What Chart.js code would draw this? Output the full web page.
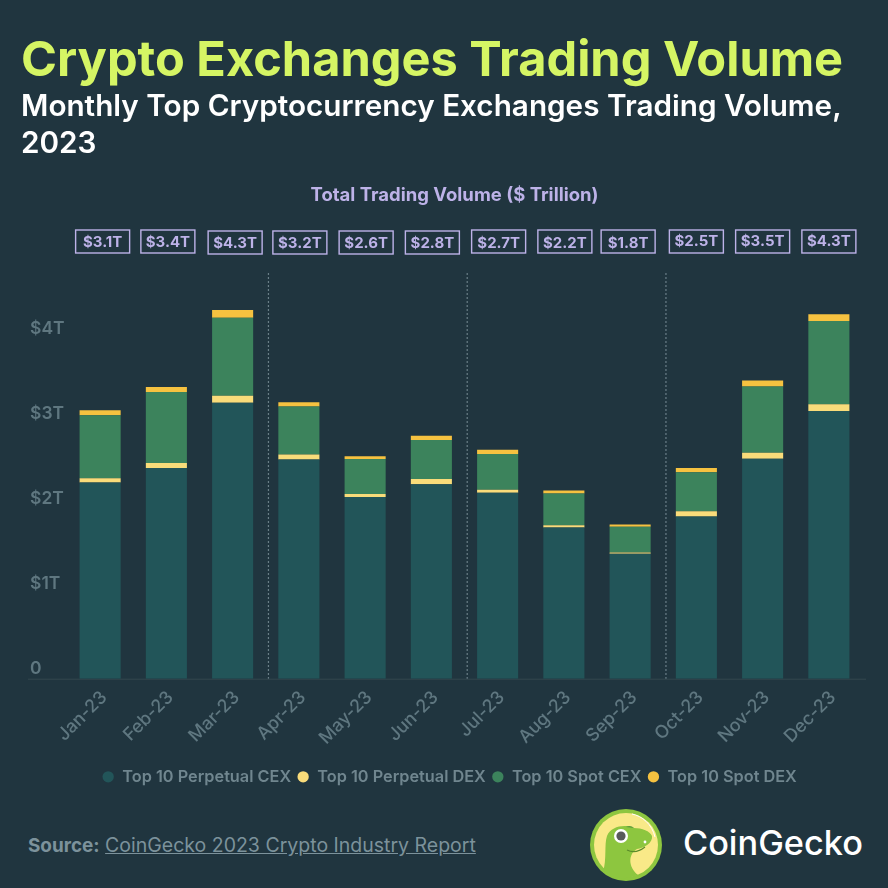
<!DOCTYPE html>
<html>
<head>
<meta charset="utf-8">
<title>Crypto Exchanges Trading Volume</title>
<script src="https://cdn.jsdelivr.net/npm/chart.js@4"></script>
<style>
  html, body { margin: 0; padding: 0; background: #20353f; }
  body { width: 888px; height: 888px; position: relative; overflow: hidden; font-family: Inter, sans-serif; }
  #chartBox { position: absolute; left: 0; top: 0; width: 888px; height: 795px; }
  h1 { position: absolute; left: 21px; top: 29px; margin: 0; font-size: 48.7px; line-height: 60px; font-weight: 700; color: #d5f564; white-space: nowrap; }
  h2 { position: absolute; left: 21px; top: 87px; margin: 0; font-size: 29.7px; line-height: 37px; font-weight: 600; color: #fff; white-space: nowrap; }
  #source { position: absolute; left: 28px; top: 834px; font-size: 19.5px; line-height: 22px; color: #7c929b; white-space: nowrap; }
  #source b { font-weight: 700; font-size: 18.9px; }
  #source a { color: #7c929b; text-decoration: underline; }
  #logo { position: absolute; left: 590px; top: 809px; }
  #brand { position: absolute; left: 683px; top: 823px; font-size: 34.3px; line-height: 40px; font-weight: 500; color: #fff; }
</style>
</head>
<body>
<div id="chartBox"><canvas id="chart" width="888" height="795"></canvas></div>
<h1>Crypto Exchanges Trading Volume</h1>
<h2>Monthly Top Cryptocurrency Exchanges Trading Volume,<br>2023</h2>
<div id="source"><b>Source:</b> <a>CoinGecko 2023 Crypto Industry Report</a></div>
<svg id="logo" width="72" height="72" viewBox="0 0 72 72">
  <circle cx="36" cy="36" r="36" fill="#8dc63f"/>
  <circle cx="36" cy="36" r="32" fill="#f9e988"/>
  <path d="M42 5 C52 7 62 15 65 28" fill="none" stroke="#fff" stroke-width="1"/>
  <path d="M13 63 C17 50 14 36 17 27 C21 17 35 15 44 19 C52 19 60 22 62 27 C63 34 54 39 47 40 C38 45 38 58 48 66 C36 71 22 70 13 63 Z" fill="#8dc63f"/>
  <path d="M36 18 C39 16 42 17 44 19 Z" fill="#5a9a3a"/>
  <circle cx="31" cy="27" r="7" fill="#fff"/>
  <circle cx="31" cy="27" r="4.6" fill="#58595b"/>
  <circle cx="55" cy="33" r="1.4" fill="#fff"/>
  <path d="M37 41 C43 44 50 42 55 38" fill="none" stroke="#5a8a2a" stroke-width="1.2"/>
</svg>
<div id="brand">CoinGecko</div>

<script>
  const months = ["Jan-23", "Feb-23", "Mar-23", "Apr-23", "May-23", "Jun-23", "Jul-23", "Aug-23", "Sep-23", "Oct-23", "Nov-23", "Dec-23"];
  const perpCex = [2.31, 2.48, 3.25, 2.58, 2.14, 2.29, 2.19, 1.78, 1.47, 1.91, 2.59, 3.15];
  const perpDex = [0.05, 0.06, 0.08, 0.06, 0.035, 0.06, 0.035, 0.025, 0.015, 0.06, 0.07, 0.08];
  const spotCex = [0.74, 0.835, 0.92, 0.565, 0.41, 0.46, 0.42, 0.375, 0.305, 0.46, 0.78, 0.98];
  const spotDex = [0.06, 0.06, 0.09, 0.05, 0.035, 0.05, 0.05, 0.035, 0.025, 0.05, 0.07, 0.08];
  const totals = ["$3.1T", "$3.4T", "$4.3T", "$3.2T", "$2.6T", "$2.8T", "$2.7T", "$2.2T", "$1.8T", "$2.5T", "$3.5T", "$4.3T"];
  const quarterEnds = [2, 5, 8]; // index of last month in each quarter

  const muted = "#5f7780";
  const lilac = "#bdb2e8";
  const FONT = "Inter, sans-serif";

  // small hand nudges, the boxes in the original are not quite aligned
  const boxDx = [2.5, 1.5, 2.5, 1, 1, 1, 1, 1, -2, 0, 0, 0];
  const boxDy = [0, 0, 1, 1, 1, 1, 0, 0, 0, 0, 0, 0];
  const textDy = [0, 0, 0, 0, 0, 0, 1.5, 1.5, 1, -1, -1, -1];

  // total boxes, heading, quarter separators and the long baseline
  const extras = {
    id: "extras",
    afterLayout(chart) {
      chart.legend.left += 7; // legend sits a little right of centre in the original
    },
    beforeDatasetsDraw(chart) {
      const { ctx, scales: { x }, chartArea: area } = chart;
      ctx.save();
      ctx.strokeStyle = "#33474f";
      ctx.lineWidth = 1;
      ctx.beginPath();
      ctx.moveTo(28, area.bottom + 0.5);
      ctx.lineTo(866, area.bottom + 0.5);
      ctx.stroke();

      ctx.strokeStyle = "#6a7f88";
      ctx.lineWidth = 1.2;
      ctx.setLineDash([2, 2]);
      quarterEnds.forEach((i) => {
        const px = (x.getPixelForTick(i) + x.getPixelForTick(i + 1)) / 2 + 2.7;
        ctx.beginPath();
        ctx.moveTo(px, area.top);
        ctx.lineTo(px, area.bottom);
        ctx.stroke();
      });
      ctx.restore();
    },
    afterDraw(chart) {
      const { ctx, scales: { x } } = chart;
      ctx.save();
      ctx.textAlign = "center";
      ctx.textBaseline = "middle";
      ctx.fillStyle = lilac;
      ctx.font = "700 18.5px " + FONT;
      ctx.fillText("Total Trading Volume ($ Trillion)", 454.5, 195);

      ctx.font = "700 15px " + FONT;
      ctx.strokeStyle = lilac;
      ctx.lineWidth = 1.4;
      totals.forEach((label, i) => {
        const cx = x.getPixelForTick(i) + boxDx[i];
        const top = 230 + boxDy[i];
        ctx.strokeRect(cx - 27, top, 54, 23);
        ctx.fillText(label, cx, top + 12 + textDy[i]);
      });
      ctx.restore();
    },
  };

  new Chart(document.getElementById("chart"), {
    type: "bar",
    data: {
      labels: months,
      datasets: [
        { label: "Top 10 Perpetual CEX", data: perpCex, backgroundColor: "#225559" },
        { label: "Top 10 Perpetual DEX", data: perpDex, backgroundColor: "#f9dc7a" },
        { label: "Top 10 Spot CEX", data: spotCex, backgroundColor: "#3c835c" },
        { label: "Top 10 Spot DEX", data: spotDex, backgroundColor: "#f6c240" },
      ],
    },
    options: {
      responsive: false,
      animation: false,
      devicePixelRatio: 1,
      layout: { padding: { top: 273, right: 26, left: 30, bottom: 0 } },
      datasets: { bar: { barPercentage: 0.62, categoryPercentage: 1 } },
      scales: {
        x: {
          stacked: true,
          grid: { display: false },
          border: { display: false },
          afterFit(s) { s.height = 84; },
          ticks: {
            color: muted,
            font: { family: FONT, size: 18, weight: "500" },
            minRotation: 45,
            maxRotation: 45,
            labelOffset: 4,
            padding: 0,
          },
        },
        y: {
          stacked: true,
          min: 0,
          max: 4.776,
          grid: { display: false },
          border: { display: false },
          afterFit(s) { s.width = 37; },
          ticks: {
            stepSize: 1,
            includeBounds: false,
            color: muted,
            align: "center",
            crossAlign: "far",
            labelOffset: -10,
            padding: 0,
            font: { family: FONT, size: 17.5, weight: "600" },
            callback: (v) => (v === 0 ? "0" : "$" + v + "T"),
          },
        },
      },
      plugins: {
        tooltip: { enabled: false },
        legend: {
          position: "bottom",
          align: "center",
          labels: {
            usePointStyle: true,
            pointStyle: "circle",
            boxWidth: 12,
            boxHeight: 8,
            padding: 6,
            color: "#70868f",
            font: { family: FONT, size: 16.3, weight: "600" },
          },
        },
      },
    },
    plugins: [extras],
  });
</script>
</body>
</html>
